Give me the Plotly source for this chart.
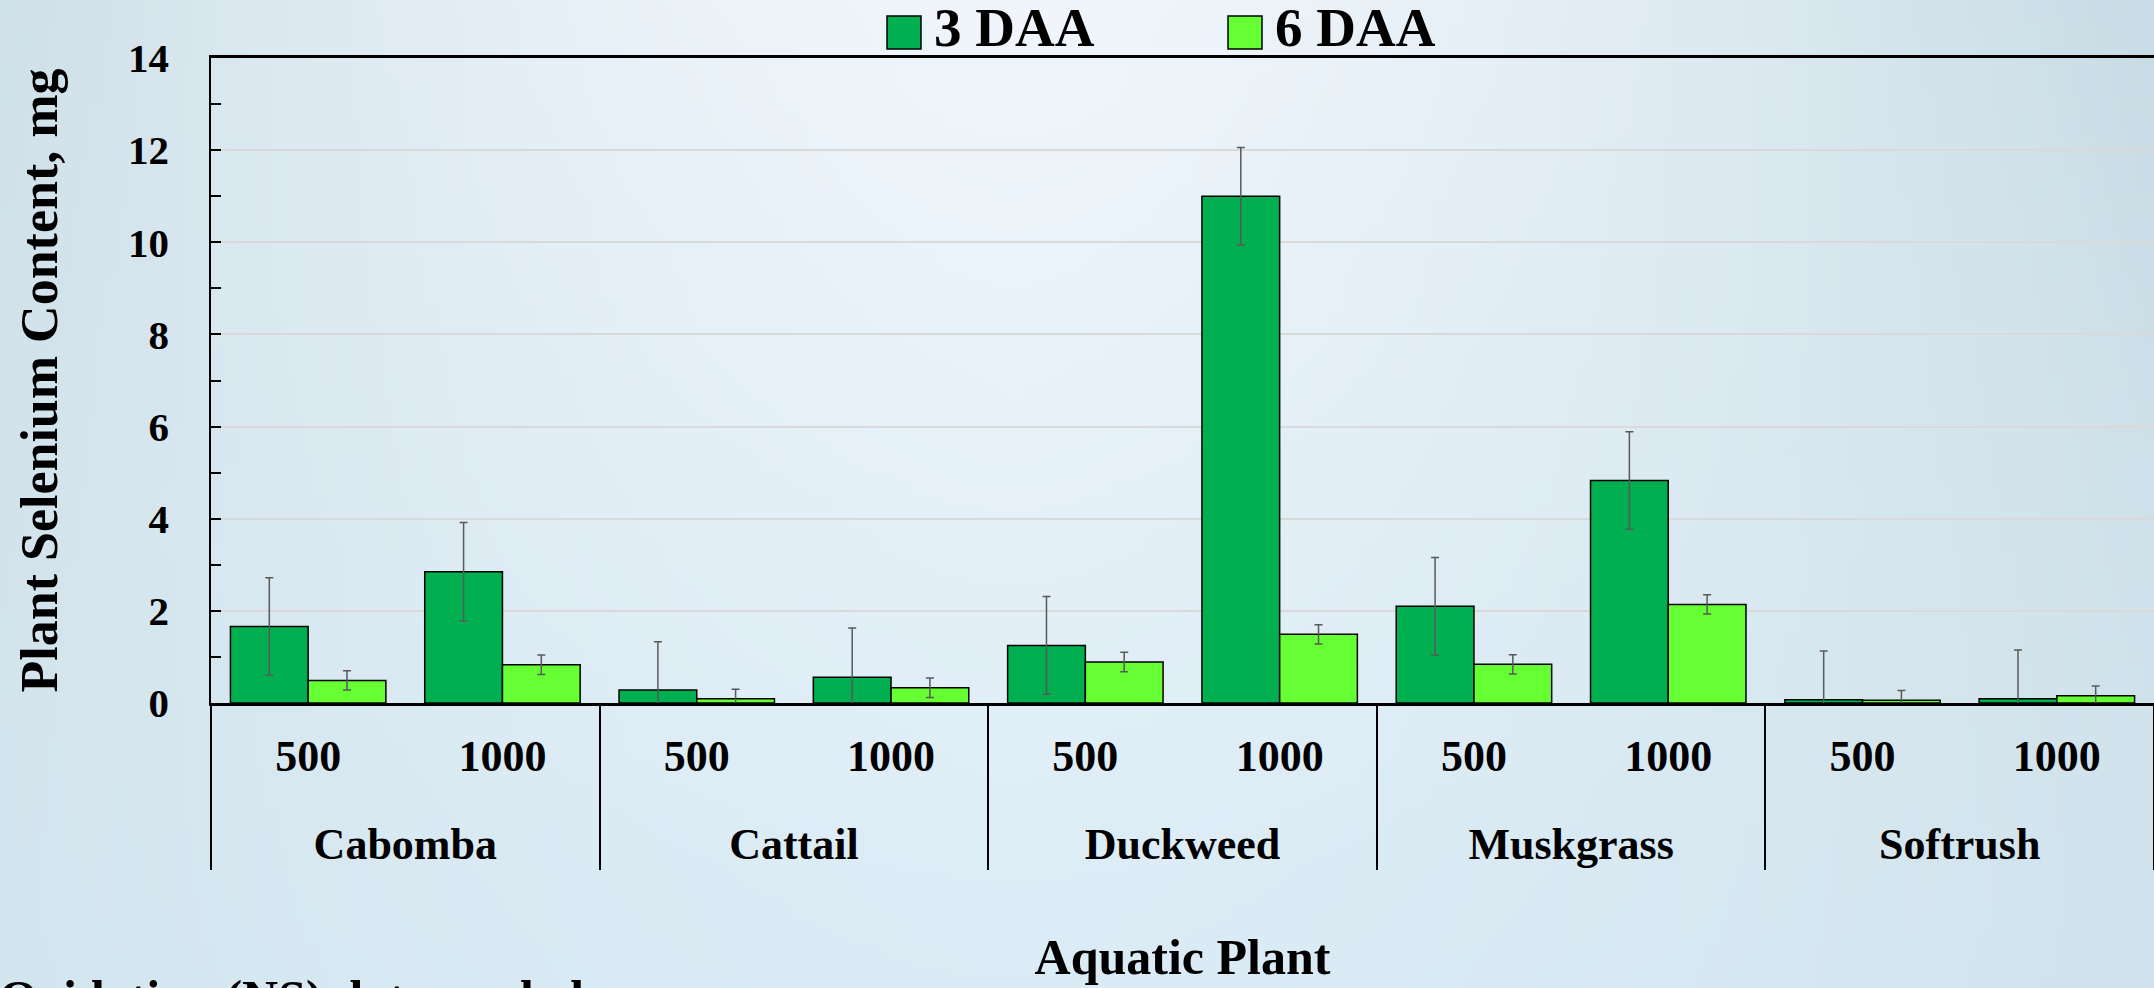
import base64
import struct
import zlib

import plotly.graph_objects as go

plants = ["Cabomba", "Cattail", "Duckweed", "Muskgrass", "Softrush"]
rates = ["500", "1000"]

# plant selenium content, mg (one value per plant x rate)
daa3 = [1.66, 2.85, 0.28, 0.56, 1.25, 11.0, 2.10, 4.83, 0.07, 0.09]
daa3_err = [1.06, 1.07, 1.05, 1.07, 1.06, 1.06, 1.06, 1.06, 1.06, 1.06]
daa6 = [0.49, 0.83, 0.09, 0.33, 0.89, 1.49, 0.84, 2.14, 0.06, 0.16]
daa6_err = [0.21, 0.21, 0.21, 0.21, 0.21, 0.21, 0.21, 0.21, 0.21, 0.21]

W, H = 2154, 988
L, T, B = 211, 58, 285
PW, PH = W - L, H - T - B

FONT = "Liberation Serif"
GREEN = "#00B050"
LIME = "#66FF33"


def px(x):
    return (x - L) / PW


def py(y):
    return (H - B - y) / PH


def bg_png(w=216, h=99):
    # soft blue slide background, light in the middle, darker at the sides
    top, bot, edge = (240, 246, 251), (219, 236, 246), (200, 220, 229)
    raw = b""
    for j in range(h):
        v = j / (h - 1)
        row = bytearray()
        for i in range(w):
            u = i / (w - 1)
            d = min(1.0, abs(u - 0.47) / 0.53)
            k = d ** 1.6 * (1 - 0.45 * v)
            for c in range(3):
                base = top[c] + (bot[c] - top[c]) * v
                row.append(int(base + (edge[c] - base) * k))
        raw += b"\x00" + bytes(row)

    def chunk(tag, data):
        return struct.pack(">I", len(data)) + tag + data + struct.pack(">I", zlib.crc32(tag + data) & 0xFFFFFFFF)

    png = b"\x89PNG\r\n\x1a\n" + chunk(b"IHDR", struct.pack(">IIBBBBB", w, h, 8, 2, 0, 0, 0))
    png += chunk(b"IDAT", zlib.compress(raw)) + chunk(b"IEND", b"")
    return "data:image/png;base64," + base64.b64encode(png).decode()


# small blank second line under the rate labels pushes the plant names further down
spacer = "<br><span style='font-size:8px'>\u00a0</span>"
x = [[p for p in plants for r in rates], [r + spacer for p in plants for r in rates]]

fig = go.Figure()
for name, vals, errs, color in [("3 DAA", daa3, daa3_err, GREEN), ("6 DAA", daa6, daa6_err, LIME)]:
    fig.add_trace(go.Bar(
        x=x, y=vals, name=name,
        marker=dict(color=color, line=dict(color="black", width=1.5)),
        error_y=dict(type="data", array=errs, color="#595959", thickness=1.5, width=4),
    ))

# legend drawn by hand so the swatches can be as big as the original
legend_items = [("3 DAA", GREEN, 887), ("6 DAA", LIME, 1228)]
shapes = []
annotations = []
for name, color, x0 in legend_items:
    shapes.append(dict(type="rect", xref="paper", yref="paper",
                       x0=px(x0), x1=px(x0 + 34), y0=py(49), y1=py(16),
                       fillcolor=color, line=dict(color="black", width=1.5)))
    annotations.append(dict(text=name, xref="paper", yref="paper", x=px(x0 + 46), y=py(28),
                            xanchor="left", yanchor="middle", showarrow=False, borderpad=0,
                            font=dict(family=FONT, size=55, weight="bold", color="black")))

annotations.append(dict(text="Oxidation (NS) data pooled", xref="paper", yref="paper",
                        x=px(586), y=py(968), xanchor="right", yanchor="top", showarrow=False,
                        font=dict(family=FONT, size=50, weight="bold", color="black")))

fig.update_layout(
    width=W, height=H,
    margin=dict(l=L, r=0, t=T, b=B),
    barmode="group", bargap=0.2, bargroupgap=0,
    showlegend=False,
    paper_bgcolor="#DDEAF1", plot_bgcolor="rgba(0,0,0,0)",
    images=[dict(source=bg_png(), xref="paper", yref="paper", x=px(0), y=py(0),
                 sizex=W / PW, sizey=H / PH, sizing="stretch", layer="below",
                 xanchor="left", yanchor="top")],
    shapes=shapes,
    annotations=annotations,
    xaxis=dict(
        type="multicategory", showline=True, linecolor="black", linewidth=2.5, mirror=True,
        ticks="", showdividers=True, dividercolor="black", dividerwidth=2,
        tickfont=dict(family=FONT, size=44, weight="bold", color="black"),
        ticklabelstandoff=12,
        title=dict(text="Aquatic Plant", standoff=72,
                   font=dict(family=FONT, size=50, weight="bold", color="black")),
    ),
    yaxis=dict(
        range=[0, 14], dtick=2, ticks="inside", ticklen=10, tickwidth=1.5, tickcolor="black",
        minor=dict(dtick=1, ticks="inside", ticklen=10, tickwidth=1.5, tickcolor="black", showgrid=False),
        showgrid=True, gridcolor="#D9D9D9", gridwidth=2, zeroline=False,
        showline=True, linecolor="black", linewidth=1.5,
        tickfont=dict(family=FONT, size=41, weight="bold", color="black"),
        ticklabelstandoff=32,
        title=dict(text="Plant Selenium Content, mg", standoff=54,
                   font=dict(family=FONT, size=52, weight="bold", color="black")),
    ),
)

fig.write_html("out.html", config={"displayModeBar": False},
               post_script="document.body.style.margin = '0';")
